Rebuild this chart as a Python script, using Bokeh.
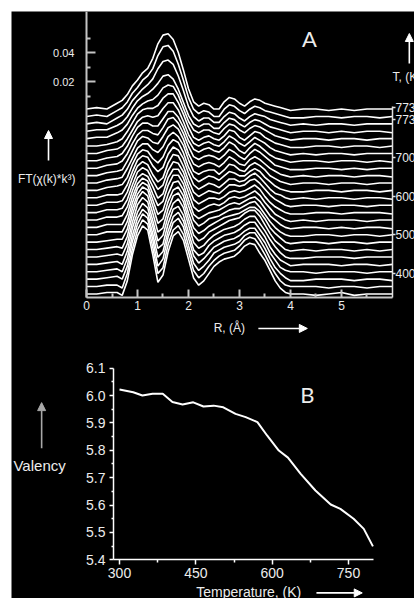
from bokeh.plotting import figure
from bokeh.models import (Range1d, LinearAxis, FixedTicker, PrintfTickFormatter,
                          Label, Arrow, NormalHead)
from bokeh.embed import file_html
from bokeh.resources import INLINE

FONT = "Liberation Sans"
TXT = "#ececec"

# ---------------- Panel A data: FT(chi(k)*k^3) vs R, one row per temperature (bottom = lowest T)
R_grid = [0.0, 0.2, 0.4, 0.6, 0.7, 0.8, 0.9, 1.0, 1.1, 1.2, 1.3, 1.4, 1.5, 1.6, 1.7, 1.8, 1.9, 2.0,
          2.1, 2.2, 2.3, 2.4, 2.5, 2.6, 2.7, 2.8, 2.9, 3.0, 3.1, 3.2, 3.3, 3.4, 3.5, 3.6, 3.7, 3.8,
          3.9, 4.0, 4.25, 4.5, 4.75, 5.0, 5.25, 5.5, 5.75, 6.0]

# amplitudes in units of 0.001
ft_rows = [
    [1,1,2,2, 0,10,28,41,48,45,28,9,14,30,41,44,38,25,12,7, 10,15,20,23,25,26,27,30,34,36, 35,29,24,17,10,5,2,1, 1,0,1,2,0,1,1,1],
    [1,1,2,2, 0,10,27,40,47,44,28,10,14,30,40,43,37,25,12,7, 10,15,19,22,24,25,26,29,33,35, 34,29,23,16,10,5,2,1, 1,1,0,1,1,0,1,1],
    [1,1,2,3, 1,10,27,39,46,43,28,10,15,30,40,43,37,24,12,7, 10,14,19,21,23,24,25,27,31,33, 33,28,22,15,9,5,2,0, 0,1,1,1,0,1,1,0],
    [1,1,2,3, 1,10,26,38,44,41,27,11,15,29,39,42,36,24,12,7, 10,14,18,20,22,23,24,26,29,31, 31,26,21,14,9,4,2,1, 1,0,1,1,1,0,1,1],
    [1,1,2,3, 1,10,26,37,43,40,27,12,15,29,39,41,35,23,11,7, 9,14,17,19,21,22,23,25,28,30, 30,25,20,13,8,4,2,0, 1,1,1,0,1,1,0,1],
    [1,1,2,3, 2,10,25,37,42,39,26,12,16,29,38,41,35,23,11,7, 9,13,16,18,20,21,22,24,27,29, 29,24,19,13,8,4,1,0, 0,1,1,1,0,1,1,1],
    [1,1,2,3, 2,10,25,36,41,38,26,13,16,29,38,40,34,22,11,7, 9,13,15,17,19,21,22,23,26,28, 28,24,18,12,7,4,1,0, 1,0,1,1,0,1,0,1],
    [1,1,2,3, 3,10,24,34,39,37,26,14,17,29,37,39,33,21,11,7, 9,12,14,16,18,19,20,21,23,25, 25,22,17,11,7,4,1,0, 1,1,0,1,1,0,1,1],
    [1,1,3,3, 3,10,23,33,37,35,25,15,18,29,37,38,32,21,11,7, 9,12,13,14,16,18,19,19,21,23, 24,20,15,10,6,3,1,0, 0,1,1,0,1,1,0,1],
    [1,1,3,3, 3,10,22,31,35,33,24,16,19,30,37,37,31,20,10,7, 9,11,12,13,15,17,18,17,19,21, 22,19,14,9,6,3,1,0, 1,1,0,1,0,1,1,0],
    [1,1,3,3, 4,10,21,30,33,31,24,16,19,30,36,36,30,20,10,7, 9,11,12,11,13,16,17,16,17,19, 21,18,13,9,5,3,1,0, 1,0,1,1,1,0,1,1],
    [1,1,3,3, 4,10,20,29,32,30,23,17,20,30,36,35,29,19,10,7, 9,11,11,10,12,15,16,15,16,18, 20,17,12,8,5,3,1,0, 0,1,1,0,1,1,1,0],
    [1,1,3,3, 4,10,20,28,31,29,22,17,20,30,36,35,28,18,10,7, 9,11,10,9,12,15,15,14,15,18, 19,16,12,8,5,3,1,0, 1,1,0,1,1,0,1,1],
    [1,1,3,3, 4,10,19,27,30,29,23,19,22,31,36,34,28,18,10,7, 9,11,10,8,11,14,14,12,13,16, 18,15,11,7,4,3,1,0, 1,0,1,1,0,1,1,0],
    [1,1,3,4, 5,10,19,26,29,28,23,20,24,32,36,34,27,17,10,7, 9,11,10,8,11,14,13,11,11,14, 16,14,10,7,4,2,1,0, 0,1,1,0,1,1,0,1],
    [1,1,3,4, 5,11,18,25,28,28,24,22,26,33,36,33,27,17,9,7, 9,10,10,7,10,14,13,10,9,13, 15,13,10,6,4,2,1,0, 1,1,0,1,1,0,1,1],
    [1,1,3,4, 5,11,18,25,28,27,24,23,28,34,36,33,26,16,9,7, 9,10,9,7,10,14,12,9,8,12, 14,12,9,6,4,2,1,0, 1,0,1,1,0,1,1,0],
    [1,1,3,4, 6,11,18,24,27,27,25,24,29,35,36,32,25,16,9,7, 9,10,9,7,10,14,12,9,7,11, 14,12,9,6,3,2,1,0, 0,1,1,0,1,0,1,1],
    [1,1,3,4, 6,11,18,24,27,27,25,25,30,35,35,31,24,15,9,7, 9,10,8,7,10,14,12,8,6,10, 13,11,8,5,3,2,1,0, 1,1,0,1,1,0,1,0],
    [1,1,3,4, 6,11,17,23,26,27,26,27,32,36,36,31,23,14,8,6, 8,9,7,6,9,13,11,8,6,9, 12,10,8,5,3,2,1,0, 1,0,1,1,0,1,1,1],
    [1,1,2,4, 6,11,17,23,26,27,27,29,34,37,37,31,23,14,7,5, 7,8,6,5,8,12,11,7,5,8, 11,10,7,5,3,2,1,0, 0,1,1,0,1,1,0,1],
    [1,2,2,5, 7,11,17,22,25,27,28,31,36,38,37,31,22,13,7,5, 7,7,5,4,8,11,10,7,5,8, 10,9,7,5,3,2,1,0, 1,1,0,1,1,0,1,1],
    [1,2,2,5, 7,11,17,22,25,27,30,34,39,40,37,30,21,12,6,4, 6,6,3,3,7,10,9,6,4,7, 9,8,6,4,3,2,1,0, 1,1,0,1,0,1,1,0],
    [1,2,1,5, 7,11,17,21,25,28,32,39,44,45,42,34,24,13,6,3, 5,5,2,2,6,9,8,5,3,6, 8,7,6,4,3,2,1,0, 1,0,1,1,0,1,1,1],
    [1,2,1,5, 7,11,17,21,26,29,34,43,49,50,46,37,26,14,6,3, 5,4,1,1,6,9,8,5,3,6, 8,7,5,4,3,2,1,0, 0,1,1,0,1,1,0,1],
    [1,2,1,5, 7,11,17,21,26,29,36,46,52,53,49,40,28,15,6,3, 5,4,1,1,6,9,8,5,3,6, 8,7,5,4,3,2,1,0, 1,1,0,1,0,1,1,1],
]
# right-hand temperature axis of panel A (two "773" marks for the held temperature)
T_axis_ticks = [400, 500, 600, 700, 798, 829]
T_axis_labels = ["400", "500", "600", "700", "773", "773"]

x_ticks_A = [0, 1, 2, 3, 4, 5]
x_minor_A = [0.5, 1.5, 2.5, 3.5, 4.5, 5.5]
y_ticks_A = [0.02, 0.04]
y_minor_A = [0.01, 0.03, 0.05]

# ---------------- Panel B data: valency vs temperature
temp_K = [300, 327, 345, 365, 385, 404, 424, 445, 465, 485, 504, 528, 548, 571, 590, 613,
          631, 656, 685, 715, 734, 760, 780, 798]
valency = [6.022, 6.012, 6.000, 6.006, 6.006, 5.976, 5.967, 5.975, 5.960, 5.963, 5.957, 5.933,
           5.921, 5.903, 5.854, 5.799, 5.773, 5.714, 5.653, 5.602, 5.586, 5.550, 5.513, 5.449]
x_ticks_B = [300, 450, 600, 750]
x_minor_B = [375, 525, 675]
y_ticks_B = [5.4, 5.5, 5.6, 5.7, 5.8, 5.9, 6.0, 6.1]
y_minor_B = [5.45, 5.55, 5.65, 5.75, 5.85, 5.95, 6.05]

for row in ft_rows:
    assert len(row) == len(R_grid), len(row)

SPACING = 0.0051
n = len(ft_rows)
baselines = [(i - (n - 1)) * SPACING for i in range(n)]
xs = [R_grid for _ in range(n)]
ys = [[v * 0.001 + baselines[i] for v in row] for i, row in enumerate(ft_rows)]

# panel extents (data units)
A_X = (0.0, 6.0)
A_Y = (-0.129, 0.0683)
A_T = (337.9, 831.9)
B_X = (288.2, 799.1)
B_Y = (5.4, 6.1)

p = figure(width=403, height=587,
           x_range=Range1d(-1.4706, 6.4314), y_range=Range1d(-0.33655, 0.06828),
           x_axis_location=None, y_axis_location=None,
           output_backend="svg", toolbar_location=None, min_border=0,
           background_fill_color="black", border_fill_color="black", outline_line_color=None,
           margin=(11, 0, 0, 11))
p.extra_x_ranges = {"TB": Range1d(87.78, 879.68)}
p.extra_y_ranges = {"VB": Range1d(5.2586, 7.4025), "TR": Range1d(-440.5, 1077.6)}
p.grid.visible = False


def style_axis(ax, col, lw, fs, t_in, t_out, m_in, m_out, standoff):
    ax.axis_line_color = col
    ax.axis_line_width = lw
    ax.major_tick_line_color = col
    ax.minor_tick_line_color = col
    ax.major_tick_line_width = lw
    ax.minor_tick_line_width = lw
    ax.major_tick_in = t_in
    ax.major_tick_out = t_out
    ax.minor_tick_in = m_in
    ax.minor_tick_out = m_out
    ax.major_label_text_color = TXT
    ax.major_label_text_font = FONT
    ax.major_label_text_font_size = fs
    ax.major_label_standoff = standoff


# ---- Panel A
p.multi_line(xs, ys, line_color="white", line_width=1.6)

axAx = LinearAxis(fixed_location=A_Y[0], bounds=A_X,
                  ticker=FixedTicker(ticks=x_ticks_A, minor_ticks=x_minor_A))
style_axis(axAx, "#c4c4c4", 2, "12px", 8, 0, 4, 0, 3)
p.add_layout(axAx, "below")

axAy = LinearAxis(fixed_location=A_X[0], bounds=A_Y,
                  ticker=FixedTicker(ticks=y_ticks_A, minor_ticks=y_minor_A),
                  formatter=PrintfTickFormatter(format="%.2f"))
style_axis(axAy, "#c4c4c4", 2, "11px", 9, 0, 4, 0, 12)
p.add_layout(axAy, "left")

axAr = LinearAxis(y_range_name="TR", fixed_location=A_X[1], bounds=A_T,
                  ticker=FixedTicker(ticks=T_axis_ticks),
                  major_label_overrides=dict(zip(T_axis_ticks, T_axis_labels)))
style_axis(axAr, "#e0e0e0", 1.5, "12px", 0, 3, 0, 0, 0)
p.add_layout(axAr, "right")


def add_label(x, y, text, size, align="center", font=FONT, **kw):
    p.add_layout(Label(x=x, y=y, text=text, text_color=TXT, text_font=font,
                       text_font_size=size, text_align=align, text_baseline="middle", **kw))


def add_arrow(x0, y0, x1, y1, col="white", size=8, **kw):
    p.add_layout(Arrow(end=NormalHead(size=size, fill_color=col, line_color=col),
                       x_start=x0, y_start=y0, x_end=x1, y_end=y1,
                       line_color=col, line_width=1.6, **kw))


add_label(4.37, 0.0497, "A", "22px", font="Lato")
add_label(-0.78, -0.0469, "FT(\u03c7(k)*k\u00b3)", "12px")
add_arrow(-0.745, -0.0345, -0.745, -0.0138)
add_label(2.8, -0.1497, "R, (\u00c5)", "12px")
add_arrow(3.37, -0.1503, 4.33, -0.1503)
add_label(6.0, 0.0228, "T, (K)", "12px", align="left")
add_arrow(6.33, 0.0324, 6.33, 0.0531)

# ---- Panel B
B = dict(x_range_name="TB", y_range_name="VB")
p.line(temp_K, valency, line_color="white", line_width=2, **B)

axBx = LinearAxis(fixed_location=B_Y[0], bounds=B_X,
                  ticker=FixedTicker(ticks=x_ticks_B, minor_ticks=x_minor_B), **B)
style_axis(axBx, "white", 1.5, "14px", 0, 5, 0, 3, 3)
p.add_layout(axBx, "below")

axBy = LinearAxis(fixed_location=B_X[0], bounds=B_Y,
                  ticker=FixedTicker(ticks=y_ticks_B, minor_ticks=y_minor_B),
                  formatter=PrintfTickFormatter(format="%.1f"), **B)
style_axis(axBy, "white", 1.5, "14px", 0, 4, 0, 2, 4)
p.add_layout(axBy, "left")

add_label(669, 6.002, "B", "22px", font="Lato", **B)
add_label(143, 5.745, "Valency", "15px", **B)
add_arrow(147, 5.807, 147, 5.974, col="#a8a8a8", **B)
add_label(554, 5.281, "Temperature, (K)", "14px", **B)
add_arrow(687, 5.279, 777, 5.279, **B)

open("out.html", "w").write(file_html(p, INLINE))
